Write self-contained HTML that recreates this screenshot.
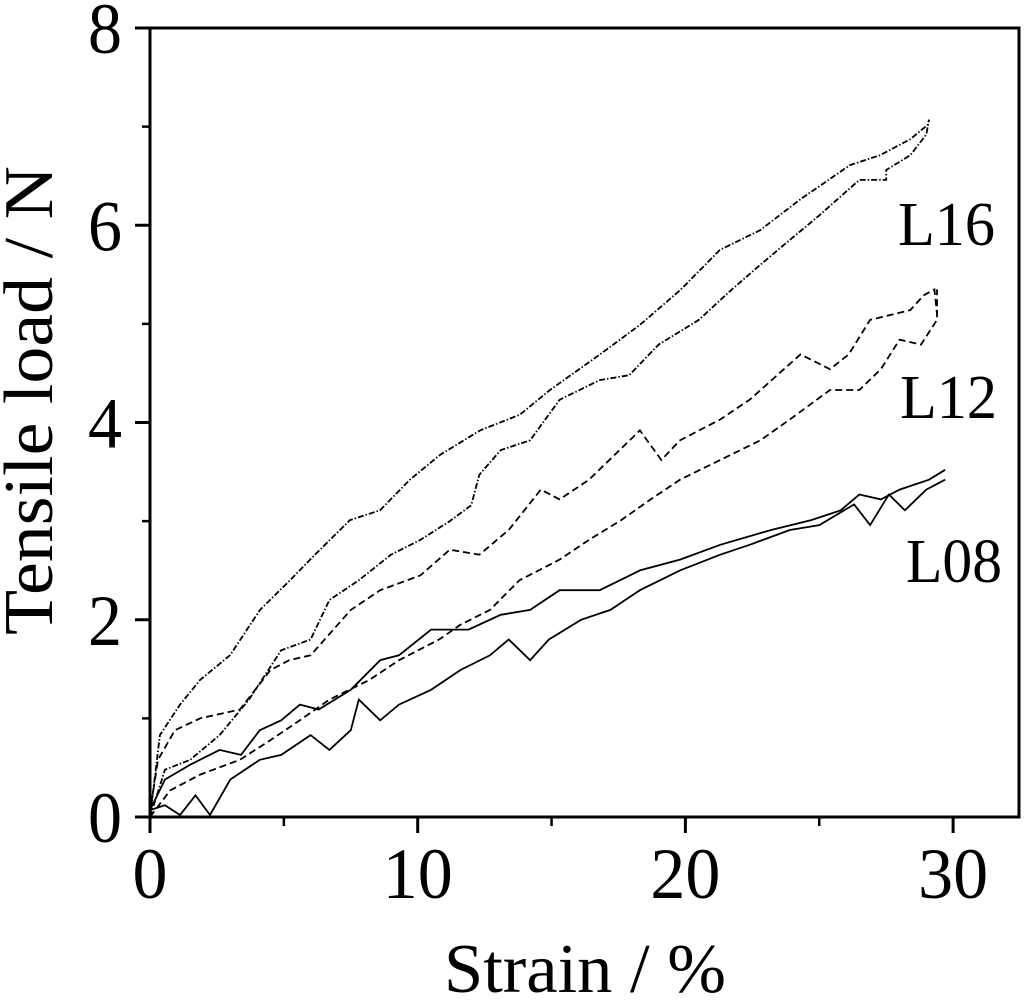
<!DOCTYPE html>
<html><head><meta charset="utf-8"><style>
html,body{margin:0;padding:0;background:#fff;}
svg text{font-family:"Liberation Serif",serif;fill:#000;}
</style></head><body>
<svg id="chart" width="1024" height="998" viewBox="0 0 1024 998" xmlns="http://www.w3.org/2000/svg">
<g id="axes"></g>
<g id="series"></g>
<text x="444" y="992" font-size="70" textLength="282" lengthAdjust="spacingAndGlyphs">Strain / %</text>
<text transform="translate(52,635) rotate(-90)" font-size="70" textLength="469" lengthAdjust="spacingAndGlyphs">Tensile load / N</text>
<text x="898" y="245" font-size="62" textLength="97" lengthAdjust="spacingAndGlyphs">L16</text>
<text x="900" y="418" font-size="62" textLength="97" lengthAdjust="spacingAndGlyphs">L12</text>
<text x="906" y="582" font-size="62" textLength="96" lengthAdjust="spacingAndGlyphs">L08</text>
</svg>
<script>
const xTicks=[0,10,20,30];
const xMinor=[5,15,25];
const yTicks=[0,2,4,6,8];
const yMinor=[1,3,5,7];
const l16aX=[0,0.37,1.12,1.87,2.99,4.11,5.23,5.98,6.72,7.47,8.59,9.71,10.83,12.33,13.82,14.94,16.81,18.3,19.8,21.29,22.79,24.28,26.15,27.27,28.39,29.06,29.1];
const l16aY=[0,0.83,1.14,1.39,1.64,2.1,2.4,2.61,2.81,3.01,3.11,3.42,3.67,3.92,4.08,4.33,4.69,4.99,5.34,5.75,5.95,6.26,6.61,6.71,6.87,7.02,7.07];
const l16bX=[0,0.56,1.5,2.6,3.7,4.9,6,6.7,7.8,9,10.1,11.2,12,12.3,13.1,14.2,15.3,16.8,17.9,19,20.5,21.7,22.8,23.9,25,26.5,27.5,27.5,28.4,29,29.1];
const l16bY=[0,0.48,0.58,0.83,1.19,1.69,1.8,2.2,2.4,2.66,2.81,3,3.16,3.47,3.72,3.82,4.23,4.43,4.48,4.79,5.04,5.34,5.6,5.85,6.1,6.46,6.46,6.56,6.71,6.92,7.07];
const l12aX=[0,0.3,0.93,1.87,3.36,4.5,5.2,6,7.5,8.6,10.1,11.2,12.3,13.4,14.6,15.3,16.4,18.3,19.1,19.8,21.3,22.4,24.3,25.4,26.1,26.9,28.4,28.9,29.3,29.4];
const l12aY=[0.05,0.58,0.88,1,1.09,1.49,1.59,1.64,2.1,2.3,2.45,2.71,2.66,2.91,3.32,3.22,3.42,3.92,3.62,3.82,4.03,4.23,4.69,4.54,4.69,5.04,5.14,5.29,5.35,5.1];
const l12bX=[0,0.75,1.87,3.36,4.5,5.6,6.7,8.2,9.3,10.8,11.6,12.7,13.8,15.3,16.4,17.6,18.7,19.8,21.3,22.8,23.9,25.4,26.5,27.3,28,28.8,29.4,29.4];
const l12bY=[0,0.27,0.43,0.58,0.78,0.98,1.19,1.39,1.59,1.8,1.95,2.1,2.4,2.61,2.81,3.01,3.22,3.42,3.62,3.82,4.03,4.33,4.33,4.54,4.84,4.79,5.04,5.35];
const l08aX=[0,0.56,1.5,2.6,3.4,4.1,4.9,5.6,6.3,7.5,8.6,9.3,10.5,11.9,13.1,14.2,15.3,16.8,18.3,19.8,21.3,23.2,24.7,25.8,26.5,27.3,28,29.1,29.7];
const l08aY=[0.07,0.38,0.53,0.68,0.63,0.88,0.98,1.14,1.09,1.29,1.59,1.64,1.9,1.9,2.05,2.1,2.3,2.3,2.5,2.61,2.76,2.91,3.01,3.11,3.27,3.22,3.32,3.42,3.52];
const l08bX=[0,0.56,1.12,1.7,2.24,3,4.1,4.9,6,6.7,7.5,7.8,8.6,9.3,10.5,11.6,12.7,13.4,14.2,14.9,16.1,17.2,18.3,19.8,21.3,22.4,23.9,25,26.3,26.9,27.6,28.2,29,29.7];
const l08bY=[0.07,0.12,0.02,0.22,0.02,0.38,0.58,0.63,0.83,0.68,0.88,1.19,0.98,1.14,1.29,1.49,1.64,1.8,1.59,1.8,2,2.1,2.3,2.5,2.66,2.76,2.91,2.96,3.17,2.96,3.27,3.11,3.32,3.42];

const NS='http://www.w3.org/2000/svg';
const X0=150,X1=1019,Y0=817,Y1=28;
const sx=v=>X0+v*26.77;
const sy=v=>Y0-v*(Y0-Y1)/8;
const axes=document.getElementById('axes');
function mk(tag,attrs,parent){const e=document.createElementNS(NS,tag);for(const k in attrs)e.setAttribute(k,attrs[k]);parent.appendChild(e);return e;}
const frame=mk('rect',{x:X0,y:Y1,width:X1-X0,height:Y0-Y1,fill:'none',stroke:'#000','stroke-width':3},axes);


xTicks.forEach(t=>{
  const l=mk('line',{x1:sx(t),x2:sx(t),y1:Y0,y2:Y0+16,stroke:'#000','stroke-width':3},axes);
  
  
  const s=String(t);
  const tx=mk('text',{x:sx(t),y:898,'font-size':72,'text-anchor':'middle',textLength:s.length*35,lengthAdjust:'spacingAndGlyphs'},axes);
  tx.textContent=s;
  
  
});
xMinor.forEach(t=>{
  const l=mk('line',{x1:sx(t),x2:sx(t),y1:Y0,y2:Y0+9,stroke:'#000','stroke-width':2.5},axes);
  
  
});
yTicks.forEach(t=>{
  const l=mk('line',{x1:X0-15,x2:X0,y1:sy(t),y2:sy(t),stroke:'#000','stroke-width':3},axes);
  
  
  const tx=mk('text',{x:122,y:sy(t)+25,'font-size':72,'text-anchor':'end',textLength:34,lengthAdjust:'spacingAndGlyphs'},axes);
  tx.textContent=t;
  
  
});
yMinor.forEach(t=>{
  const l=mk('line',{x1:X0-8,x2:X0,y1:sy(t),y2:sy(t),stroke:'#000','stroke-width':2.5},axes);
  
  
});
const ser=document.getElementById('series');
function draw(xs,ys,dash,name){
  const d=xs.map((x,i)=>(i?'L':'M')+sx(x).toFixed(1)+','+sy(ys[i]).toFixed(1)).join(' ');
  const p=mk('path',{d:d,fill:'none',stroke:'#000','stroke-width':1.8,'stroke-dasharray':dash},ser);
  
  
}
draw(l16aX,l16aY,'6,2,1.5,2','l16-upper-line');
draw(l16bX,l16bY,'6,2,1.5,2','l16-lower-line');
draw(l12aX,l12aY,'7,4','l12-upper-line');
draw(l12bX,l12bY,'7,4','l12-lower-line');
draw(l08aX,l08aY,'none','l08-upper-line');
draw(l08bX,l08bY,'none','l08-lower-line');
</script>
</body></html>
